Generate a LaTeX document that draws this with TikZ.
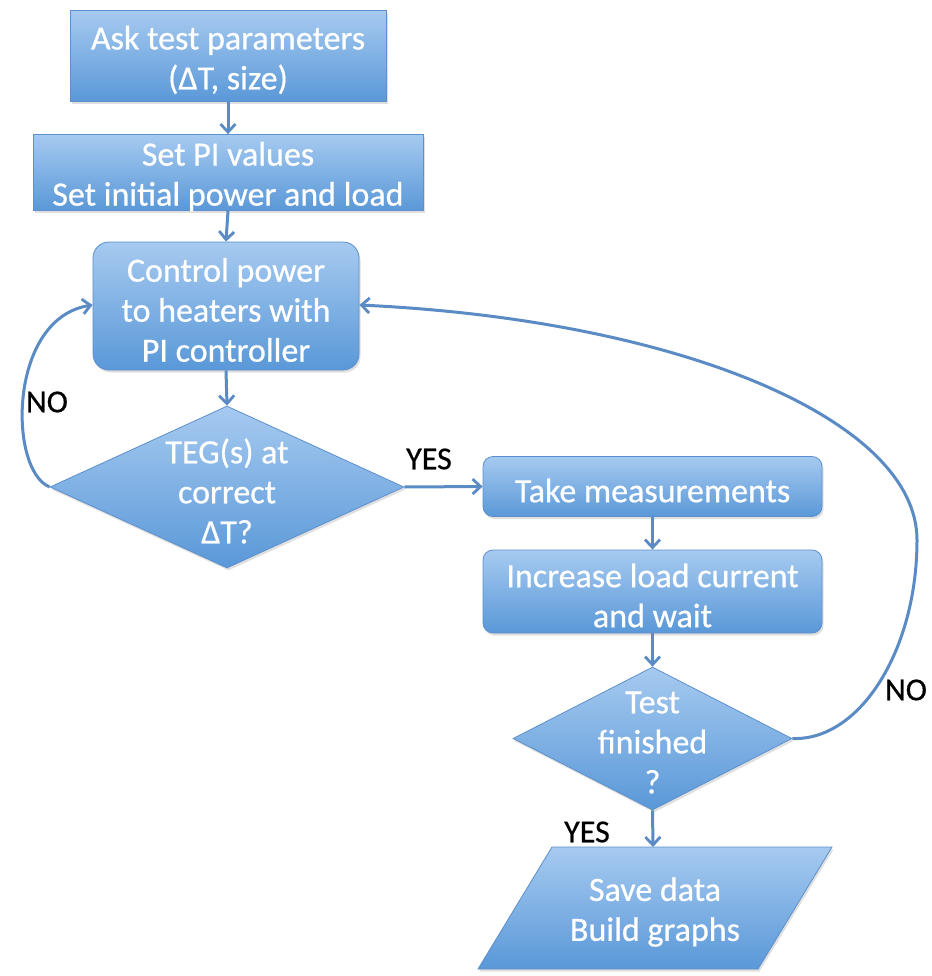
\documentclass[tikz,border=0pt]{standalone}
\usepackage{fontspec}
\setmainfont{Carlito}
\newfontfamily\boxfont[FakeBold=0.6]{Carlito}
\usetikzlibrary{shapes.geometric,arrows.meta,shadows}
\definecolor{boxtop}{HTML}{A6CAF0}
\definecolor{boxbot}{HTML}{5A98D8}
\definecolor{boxedge}{HTML}{5C90CC}
\definecolor{arrowc}{HTML}{5A8BC4}
\tikzset{
  base/.style={top color=boxtop, bottom color=boxbot, draw=boxedge, line width=0.8pt,
    drop shadow={opacity=0.25, shadow xshift=1.5pt, shadow yshift=-2.5pt}},
  sqbox/.style={base, rectangle, inner sep=0pt},
  rbox/.style={base, rectangle, rounded corners=16pt, inner sep=0pt},
  dia/.style={base, diamond, inner sep=0pt},
  txt/.style={text=white, font=\boxfont\fontsize{34}{40}\selectfont, align=center, yshift=-4pt},
  lbl/.style={text=black, font=\boxfont\fontsize{32}{36}\selectfont},
  conn/.style={draw=arrowc, line width=3pt, -{Straight Barb[length=8pt,width=15pt,line width=2.8pt]}}
}
\begin{document}
\begin{tikzpicture}[x=1pt,y=-1pt]
\useasboundingbox (0,0) rectangle (931,976);
\fill[white] (0,0) rectangle (931,976);
% boxes
\node[sqbox, minimum width=316pt, minimum height=91pt] (ask) at (228,56) {};
\node[txt] at (ask) {Ask test parameters\\(ΔT, size)};
\node[sqbox, minimum width=390pt, minimum height=76pt] (pi) at (228,172.5) {};
\node[txt] at (pi) {Set PI values\\Set initial power and load};
\node[rbox, minimum width=266pt, minimum height=128pt] (ctl) at (226,306) {};
\node[txt] at (ctl) {Control power\\to heaters with\\PI controller};
\node[dia, minimum width=354pt, minimum height=162pt] (d1) at (227,487) {};
\node[txt] at (d1) {TEG(s) at\\correct\\ΔT?};
\node[rbox, rounded corners=10pt, minimum width=339pt, minimum height=60pt] (meas) at (652.5,486.5) {};
\node[txt] at (meas) {Take measurements};
\node[rbox, rounded corners=10pt, minimum width=339pt, minimum height=83pt] (inc) at (652.5,591.5) {};
\node[txt] at (inc) {Increase load current\\and wait};
\node[dia, minimum width=279pt, minimum height=143pt] (d2) at (652.5,738.5) {};
\node[txt] at (d2) {Test\\finished\\?};
% parallelogram
\path[base] (552,847) -- (832,847) -- (758,969) -- (478,969) -- cycle;
\node[txt, inner sep=0pt] (save) at (655,908) {Save data\\Build graphs};
\coordinate (savetop) at (653,847);
% connectors
\draw[conn] (ask.south) -- (pi.north);
\draw[conn] (pi.south) -- (ctl.north);
\draw[conn] (ctl.south) -- (d1.north);
\draw[conn] (d1.east) -- (meas.west);
\draw[conn] (meas.south) -- (inc.north);
\draw[conn] (inc.south) -- (d2.north);
\draw[conn] (d2.south) -- (savetop);
\draw[conn] (d1.west) .. controls (8,470) and (8,318) .. ([yshift=1pt]ctl.west);
\draw[conn] (d2.east) .. controls (860,741) and (917,650) .. (917,540)
   .. controls (917,420) and (680,320) .. ([yshift=1pt]ctl.east);
% labels
\node[lbl] (no1) at (47,402) {NO};
\node[lbl] (yes1) at (429,459) {YES};
\node[lbl] (no2) at (906,690) {NO};
\node[lbl] (yes2) at (587,832) {YES};
\end{tikzpicture}
\end{document}
